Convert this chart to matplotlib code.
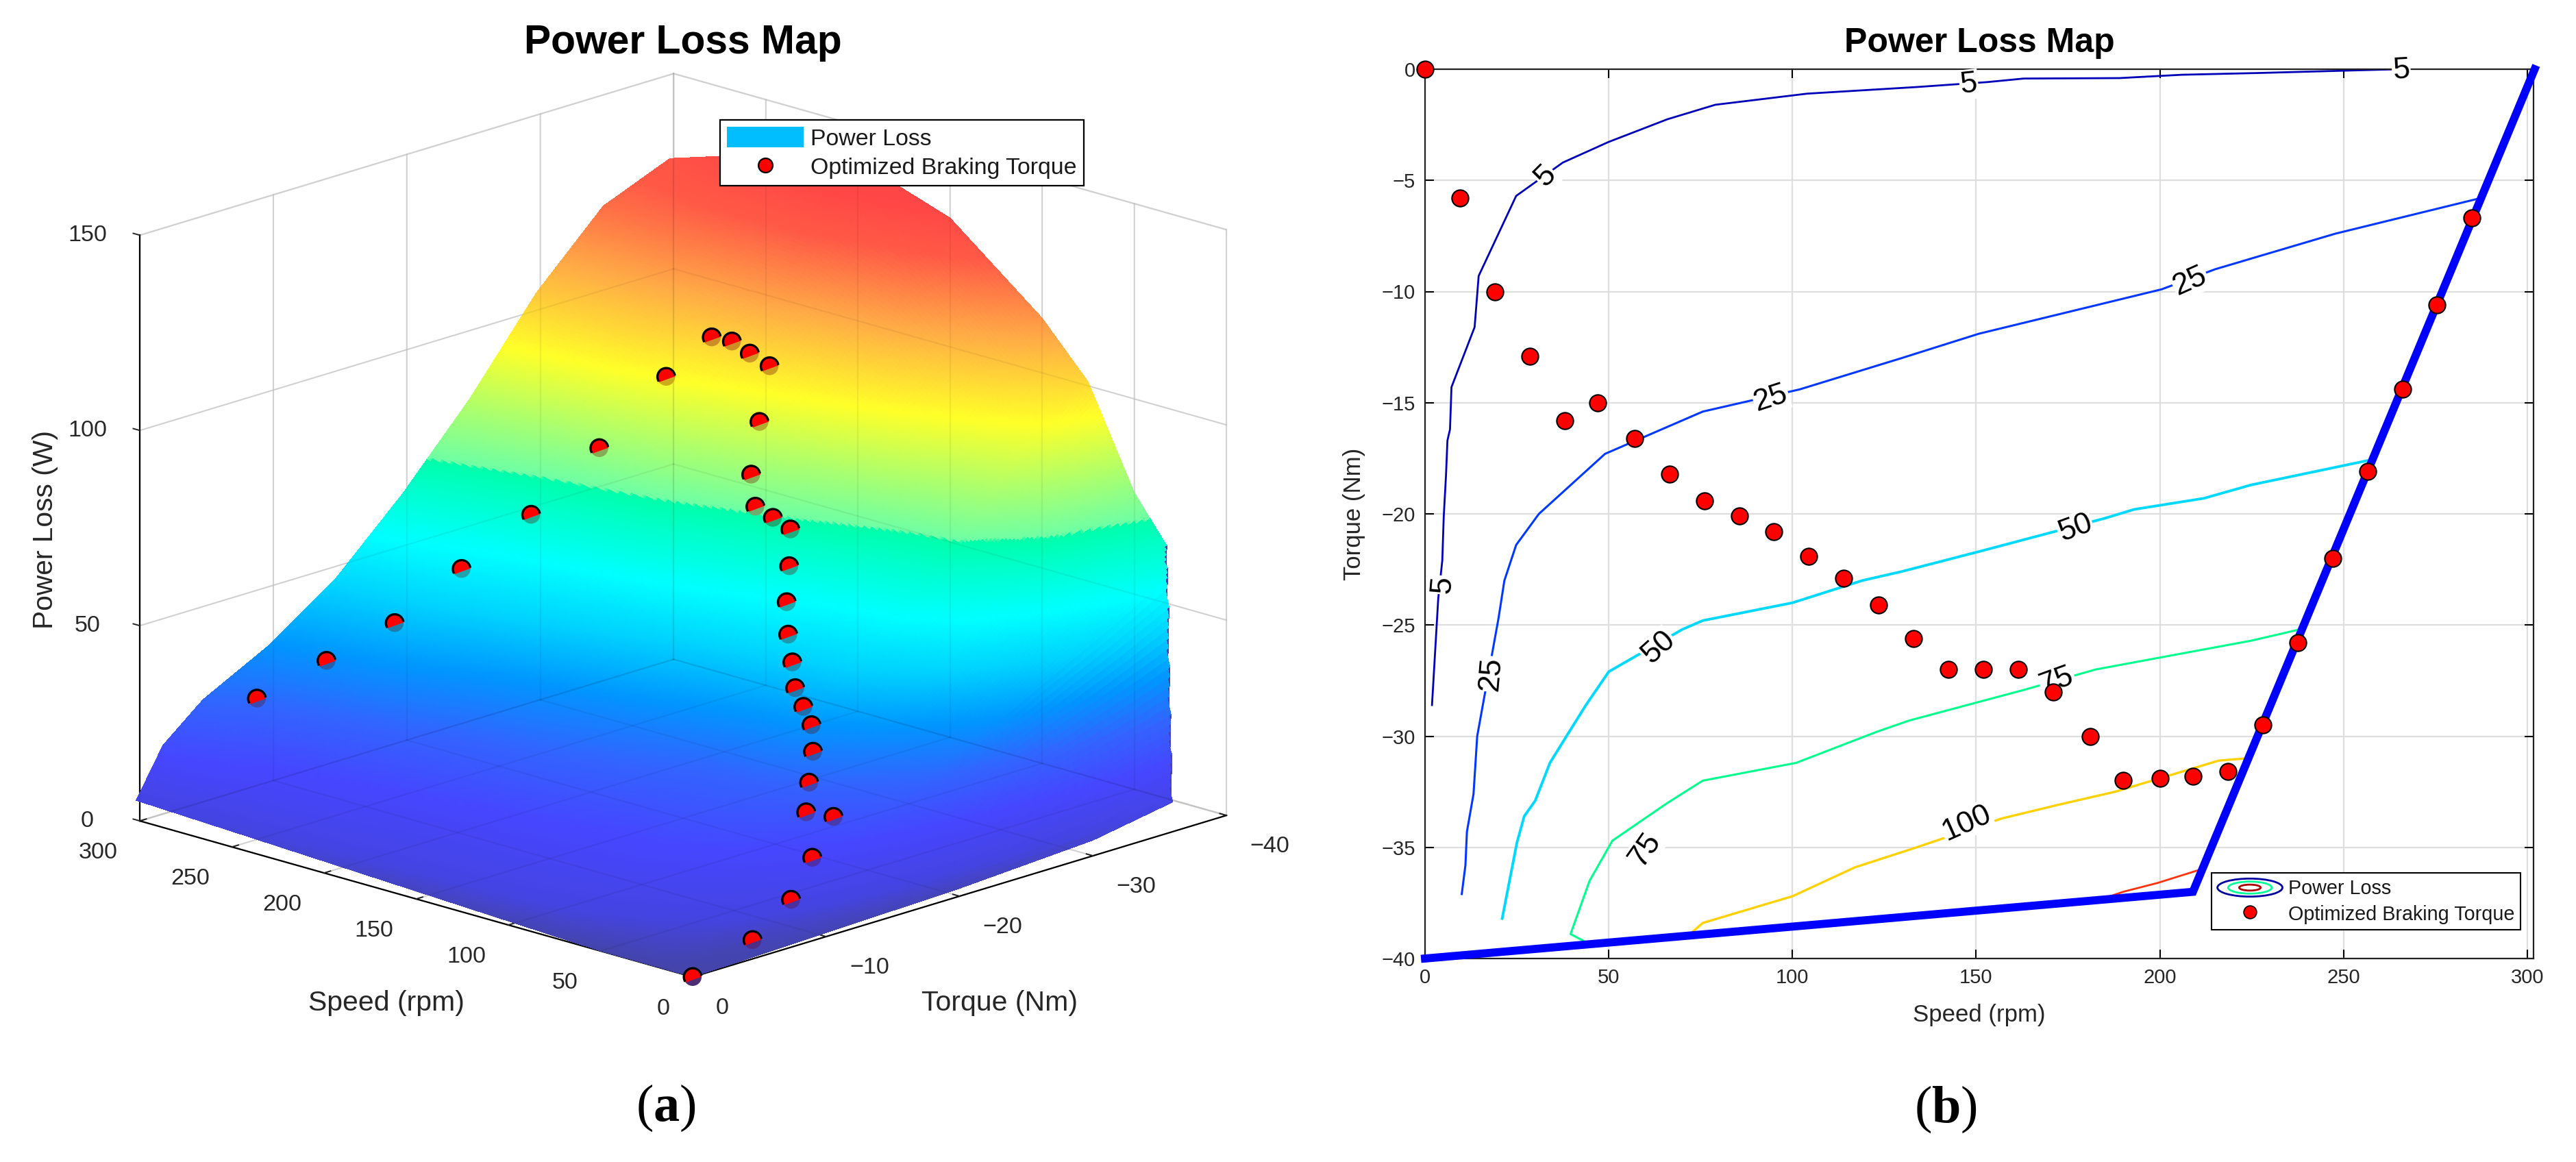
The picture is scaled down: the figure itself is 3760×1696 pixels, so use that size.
import numpy as np
import matplotlib
matplotlib.use("Agg")
import matplotlib.pyplot as plt
from matplotlib.colors import LinearSegmentedColormap
from matplotlib.legend_handler import HandlerBase
from matplotlib.lines import Line2D
from matplotlib.patches import Ellipse, Patch
from matplotlib.path import Path
from matplotlib.text import Text
from mpl_toolkits.mplot3d import proj3d

plt.rcParams['font.family'] = ['Liberation Sans', 'DejaVu Sans']
plt.rcParams['mathtext.fontset'] = 'custom'
plt.rcParams['mathtext.bf'] = 'Liberation Serif:bold'
plt.rcParams['mathtext.rm'] = 'Liberation Serif'

W, H = 3760, 1696

# ---------- data ----------
grid_speed = [0, 10, 25, 50, 75, 100, 150, 200, 250, 302]
grid_torque = [-40, -35, -30, -25, -20, -15, -10, -5, -2, 0]
loss_s0   = [10, 7, 4, 3, 2, 1.5, 1, 0.5, 0.2, 0]
loss_s10  = [27, 23, 19, 15, 11, 7, 4, 1, 0.5, 0]
loss_s25  = [60, 50, 41, 32, 23, 16, 9, 4, 2, 0]
loss_s50  = [76, 70, 58, 44, 31, 21, 15, 7, 3, 0]
loss_s75  = [101, 86, 68, 51, 37, 24, 18, 10, 5, 0.5]
loss_s100 = [114, 92, 71, 53, 39, 26, 18, 11, 6.5, 1]
loss_s150 = [133, 106, 81, 62, 45, 32, 22, 12, 7.5, 2]
loss_s200 = [141, 116, 91, 70, 51, 37, 25, 14, 9, 3]
loss_s250 = [136, 120, 100, 75, 56, 43, 31, 17, 11, 4]
loss_s302 = [128, 121, 104, 82, 63, 46.5, 34.5, 25.6, 17, 5]
surface_edge_speed = [0, 32]
surface_edge_torque = [-36, -40]

opt_speed = [0, 9.5, 19, 28.5, 38, 47, 57, 66.5, 76, 85.5, 95, 104.5, 114, 123.5, 133, 142.5,
             152, 161.5, 171, 181, 190, 200, 209, 218.5, 228, 237.5, 247, 256.5, 266, 275.5, 285]
opt_torque = [0, -5.8, -10, -12.9, -15.8, -15, -16.6, -18.2, -19.4, -20.1, -20.8, -21.9, -22.9,
              -24.1, -25.6, -27, -27, -27, -28, -30, -32, -31.9, -31.8, -31.6, -29.5, -25.8,
              -22, -18.1, -14.4, -10.6, -6.7]
opt_loss = [0, 2.2, 6.9, 13.4, 19.6, 20.4, 25, 30, 34.3, 37, 39.8, 44, 48.8, 54.6, 61, 67.7,
            69.4, 71, 76.9, 87, 98, 100, 102, 102, 92.8, 77.1, 62.7, 51.6, 40.3, 33.3, 26.4]

limit_speed = [0, 209, 302]
limit_torque = [-40, -37, 0]

c5_x = [279.5, 265, 227, 206, 189, 163, 153, 134, 104, 79, 66, 50, 37.5, 24.8, 14.6, 13.5, 7.2,
        6.8, 6.1, 5.7, 5.1, 4.7, 3.6, 1.9]
c5_y = [0.05, 0, -0.17, -0.25, -0.4, -0.42, -0.58, -0.8, -1.1, -1.6, -2.25, -3.27, -4.2, -5.7,
        -9.3, -11.6, -14.3, -16.2, -16.7, -18.3, -20.1, -22.1, -23.8, -28.6]
c25_x = [286, 247.7, 215, 200.5, 150.7, 129.6, 102, 75.6, 49, 31, 24.8, 21.6, 20, 14.2, 13.2,
         11.4, 11, 10]
c25_y = [-5.85, -7.4, -9, -9.9, -11.9, -13, -14.4, -15.4, -17.3, -20, -21.4, -23, -24.7, -30,
         -32.6, -34.3, -35.8, -37.1]
c50_x = [256.6, 224.8, 212, 193, 185, 150.7, 129.6, 119, 100, 75.6, 70, 50, 43.8, 38.5, 34, 30,
         27, 25, 21]
c50_y = [-17.6, -18.7, -19.3, -19.8, -20.2, -21.7, -22.6, -23, -24, -24.8, -25.2, -27.1, -28.6,
         -30, -31.2, -32.9, -33.6, -34.8, -38.2]
c75_x = [238, 225, 182.5, 163.4, 131.7, 123, 101, 75.6, 66, 51, 44.8, 39.6, 44.2]
c75_y = [-25.2, -25.7, -27, -27.9, -29.3, -29.8, -31.2, -32, -33, -34.7, -36.5, -38.9, -39.3]
c100_x = [223.3, 216, 187.8, 172, 157, 133.8, 117, 100, 75.6, 71.4]
c100_y = [-31, -31.1, -32.5, -33.1, -33.7, -35, -35.9, -37.2, -38.4, -39]
c125_x = [211, 199.4, 190, 184.6]
c125_y = [-36, -36.6, -37, -37.3]

contour_labels = ['5', '5', '5', '5', '25', '25', '25', '50', '50', '75', '75', '100']
label_speed = [148, 265.7, 32.8, 4.8, 208.3, 94.2, 18, 177, 63.5, 60, 172, 147.4]
label_torque = [-0.68, -0.05, -4.8, -23.2, -9.55, -14.8, -27.2, -20.65, -26, -35.1, -27.5, -33.9]
label_angle = [6, 3, 45, 85, 24, 18, 85, 20, 42, 55, 20, 24]

speed_ticks = [0, 50, 100, 150, 200, 250, 300]
torque_ticks_3d = [-40, -30, -20, -10, 0]
loss_ticks = [0, 50, 100, 150]
torque_ticks_2d = [-40, -35, -30, -25, -20, -15, -10, -5, 0]

# colour ramp as seen on the surface: power loss -> visible colour
ramp_loss = [0, 5, 15, 25, 35, 45, 55, 65, 69.9, 70.1, 80, 93, 110, 125, 135, 150]
ramp_rgb = [(68, 68, 170), (68, 68, 225), (70, 70, 255), (50, 100, 255), (0, 150, 255),
            (0, 210, 255), (0, 255, 255), (0, 255, 200), (0, 255, 170), (110, 255, 165),
            (170, 255, 110), (255, 255, 40), (255, 170, 70), (255, 90, 70), (255, 70, 70),
            (255, 70, 70)]

fig = plt.figure(figsize=(W / 100, H / 100), dpi=100, facecolor='white')


def fx(px):
    return px / W


def fy(py):
    return 1 - py / H


# ---------- (a) 3D surface ----------
ax3 = fig.add_axes([0, 0, 1, 1], projection='3d', proj_type='ortho', computed_zorder=False)
ax3.set_box_aspect((1, 1, 0.797))
ax3.view_init(elev=17, azim=134)
ax3.set_xlim(0, 300, view_margin=0)
ax3.set_ylim(-40, 0, view_margin=0)
ax3.set_zlim(0, 150, view_margin=0)

# place the projected box on the target corners (pixels, y down)
M = ax3.get_proj()
ax_, ay_, _ = proj3d.proj_transform(300, 0, 0, M)
bx_, by_, _ = proj3d.proj_transform(0, -40, 0, M)
ox_, oy_, _ = proj3d.proj_transform(0, 0, 0, M)
k = (1789 - 203) / (bx_ - ax_)
v = ax3.viewLim
v_x0, v_x1, v_y0 = v.x0, v.x1, v.y0
size = k * (v_x1 - v_x0)
left = 1011 - k * (ox_ - v_x0)
bottom = (H - 1426) - k * (oy_ - v_y0)
ax3.set_position([left / W, bottom / H, size / W, size / H])
ax3.patch.set_alpha(0)

table = np.array([loss_s0, loss_s10, loss_s25, loss_s50, loss_s75, loss_s100, loss_s150,
                  loss_s200, loss_s250, loss_s302], dtype=float)
fine_s = np.linspace(grid_speed[0], grid_speed[-1], 300)
fine_t = np.linspace(grid_torque[0], grid_torque[-1], 260)
by_t = np.array([np.interp(fine_t, grid_torque, row) for row in table])
fine_z = np.array([np.interp(fine_s, grid_speed, by_t[:, j]) for j in range(len(fine_t))])
SS, TT = np.meshgrid(fine_s, fine_t)
edge = np.interp(SS, surface_edge_speed, surface_edge_torque)
fine_z[TT < edge] = np.nan

zmax = ramp_loss[-1]
nodes = [(z / zmax, tuple(c / 255 for c in rgb)) for z, rgb in zip(ramp_loss, ramp_rgb)]
cmap = LinearSegmentedColormap.from_list('loss', nodes, N=2048)

face = cmap(np.nan_to_num(fine_z) / zmax)
ax3.plot_surface(SS, TT, fine_z, facecolors=face, rstride=1, cstride=1, shade=False,
                 linewidth=0, antialiased=False, zorder=1)

# the grid shows faintly through the translucent surface
GRID = dict(color='black', alpha=0.06, lw=1.6, zorder=2)
for s in speed_ticks:
    ax3.plot([s, s], [-40, 0], [0, 0], **GRID)
    ax3.plot([s, s], [-40, -40], [0, 150], **GRID)
for t in torque_ticks_3d:
    ax3.plot([0, 300], [t, t], [0, 0], **GRID)
    ax3.plot([300, 300], [t, t], [0, 150], **GRID)
for z in loss_ticks:
    ax3.plot([0, 300], [-40, -40], [z, z], **GRID)
    ax3.plot([300, 300], [-40, 0], [z, z], **GRID)

under = np.array([np.array(cmap(z / zmax)[:3]) * 0.68 + np.array([0.12, 0, 0]) for z in opt_loss])
under = np.clip(under, 0, 1)
ax3.scatter(opt_speed, opt_torque, opt_loss, s=350, c=under, marker='o', linewidths=0,
            depthshade=False, zorder=3)


def arc_path(a0, a1, closed):
    ang = np.radians(np.linspace(a0, a1, 60))
    pts = np.column_stack([np.cos(ang), np.sin(ang)])
    if closed:
        return Path(np.vstack([pts, pts[0]]), closed=True)
    return Path(pts)


# upper part of each marker stands clear of the surface; only that part has a black rim
ax3.scatter(opt_speed, opt_torque, opt_loss, s=340, c='red', marker=arc_path(5, 215, True),
            linewidths=0, depthshade=False, zorder=4)
ax3.scatter(opt_speed, opt_torque, opt_loss, s=340, facecolors='none', edgecolors='black',
            marker=arc_path(8, 212, False), linewidths=2.4, depthshade=False, zorder=5)

for axis in (ax3.xaxis, ax3.yaxis, ax3.zaxis):
    axis.pane.set_facecolor((1, 1, 1, 0))
    axis.pane.set_edgecolor((0.85, 0.85, 0.85))
    axis.pane.set_linewidth(1.6)
    axis.line.set_color('black')
    axis.line.set_linewidth(1.6)
    axis._axinfo['grid'].update(color=(0.87, 0.87, 0.87), linewidth=1.4)
    axis._axinfo['tick'].update(inward_factor=0.0, outward_factor=0.15,
                                linewidth={True: 1.4, False: 1.0})
    axis.set_rotate_label(False)

ax3.set_xticks(speed_ticks)
ax3.set_yticks(torque_ticks_3d)
ax3.set_zticks(loss_ticks)
ax3.set_yticklabels(['\u2212%d' % abs(t) if t else '0' for t in torque_ticks_3d])
ax3.tick_params(axis='x', labelsize=24.6, colors='#262626', pad=20)
ax3.tick_params(axis='y', labelsize=24.6, colors='#262626', pad=20)
ax3.tick_params(axis='z', labelsize=24.6, colors='#262626', pad=24)
ax3.zaxis._axinfo['juggled'] = (1, 2, 0)
for lab in ax3.get_xticklabels():
    lab.set_ha('right')
    lab.set_va('center')
for lab in ax3.get_yticklabels():
    lab.set_ha('left')
    lab.set_va('center')
for lab in ax3.get_zticklabels():
    lab.set_ha('center')
    lab.set_va('center')

ax3.set_xlabel('Speed (rpm)', fontsize=29.5, color='#262626')
ax3.set_ylabel('Torque (Nm)', fontsize=29.5, color='#262626')
ax3.set_zlabel('Power Loss (W)', fontsize=29.3, color='#262626', rotation=90)
# fix the axis labels at their target pixels (expressed in the 2D view coordinates of the 3D axes)
for axis, (lx, ly) in ((ax3.xaxis, (564, 1464)), (ax3.yaxis, (1459, 1464)), (ax3.zaxis, (66, 773))):
    Text.set_position(axis.label, (v_x0 + (lx - left) / k, v_y0 + ((H - ly) - bottom) / k))
    axis.label.set_position = lambda xy: None
    axis.label.set_clip_on(False)

fig.text(fx(997), fy(63), 'Power Loss Map', fontsize=42.4, fontweight='bold', ha='center', va='center')

leg3 = fig.legend(handles=[Patch(facecolor=(0, 190 / 255, 1), edgecolor='none', label='Power Loss'),
                           Line2D([], [], ls='none', marker='o', mfc='red', mec='black', mew=1.6,
                                  ms=15, label='Optimized Braking Torque')],
                  loc='upper left', bbox_to_anchor=(fx(1051), fy(175)), bbox_transform=fig.transFigure,
                  fontsize=24.4, frameon=True, fancybox=False, framealpha=1, edgecolor='black',
                  borderaxespad=0, borderpad=0.3, handlelength=3.3, handleheight=1.0,
                  handletextpad=0.3, labelspacing=0.25, labelcolor='#1a1a1a')
leg3.get_frame().set_linewidth(1.6)

# ---------- (b) contour map ----------
ax2 = fig.add_axes([2080 / W, (H - 1399) / H, (3698 - 2080) / W, (1399 - 101) / H])
ax2.set_xlim(0, 301.7)
ax2.set_ylim(-40, 0)
ax2.set_xticks(speed_ticks)
ax2.set_yticks(torque_ticks_2d)
ax2.set_yticklabels(['\u2212%d' % abs(t) if t else '0' for t in torque_ticks_2d])
ax2.grid(True, color=(0.87, 0.87, 0.87), linewidth=1.6, zorder=0)
ax2.set_axisbelow(True)
ax2.tick_params(direction='in', length=9.5, width=1.5, top=True, right=True, labelsize=21,
                labelcolor='#262626', pad=10)
for sp in ax2.spines.values():
    sp.set_linewidth(1.6)
    sp.set_color('#222222')

ax2.plot(c5_x, c5_y, color=(0, 0, 0.72), lw=2.0, zorder=2)
ax2.plot(c25_x, c25_y, color=(0, 0.22, 1), lw=2.2, zorder=2)
ax2.plot(c50_x, c50_y, color=(0, 0.85, 1), lw=2.8, zorder=2)
ax2.plot(c75_x, c75_y, color=(0, 1, 0.55), lw=2.2, zorder=2)
ax2.plot(c100_x, c100_y, color=(1, 0.82, 0), lw=2.4, zorder=2)
ax2.plot(c125_x, c125_y, color=(1, 0.2, 0.05), lw=2.0, zorder=2)

ax2.plot(limit_speed, limit_torque, color=(0, 0, 1), lw=8.5, clip_on=False, zorder=3,
         solid_joinstyle='miter')

for txt, xs, ys, ang in zip(contour_labels, label_speed, label_torque, label_angle):
    ax2.text(xs, ys, txt, fontsize=32, rotation=ang, rotation_mode='anchor', ha='center', va='center',
             color='black', zorder=4,
             bbox=dict(facecolor='white', edgecolor='none', pad=1.0))

ax2.plot(opt_speed, opt_torque, ls='none', marker='o', mfc='red', mec='black', mew=1.5, ms=17.5,
         clip_on=False, zorder=5)

ax2.set_xlabel('Speed (rpm)', fontsize=25, color='#262626', labelpad=17)
ax2.set_ylabel('Torque (Nm)', fontsize=25, color='#262626', labelpad=17)
ax2.set_title('Power Loss Map', fontsize=36, fontweight='bold', pad=18)


class ContourHandle:
    pass


class ContourHandler(HandlerBase):
    def create_artists(self, legend, orig, xd, yd, width, height, fontsize, trans):
        cx, cy = width / 2 - xd, height / 2 - yd
        arts = []
        for f, col in zip((1.0, 0.67, 0.33), ((0, 0, 0.63), (0, 1, 0.6), (0.67, 0, 0))):
            arts.append(Ellipse((cx, cy), width * f, height * 1.02 * f, fill=False, edgecolor=col,
                                linewidth=2.0, transform=trans))
        return arts


leg2 = ax2.legend(handles=[ContourHandle(),
                           Line2D([], [], ls='none', marker='o', mfc='red', mec='black', mew=1.2,
                                  ms=13.5)],
                  labels=['Power Loss', 'Optimized Braking Torque'],
                  handler_map={ContourHandle: ContourHandler()},
                  loc='upper left', bbox_to_anchor=(fx(3228), fy(1274)), bbox_transform=fig.transFigure,
                  fontsize=20.7, frameon=True, fancybox=False, framealpha=1, edgecolor='black',
                  borderaxespad=0, borderpad=0.3, handlelength=3.3, handleheight=1.0,
                  handletextpad=0.3, labelspacing=0.3, labelcolor='#1a1a1a')
leg2.get_frame().set_linewidth(1.5)
leg2.set_zorder(10)

fig.text(fx(972), fy(1617), '($\\mathbf{a}$)', fontsize=55, family='Liberation Serif', ha='center', va='center')
fig.text(fx(2840), fy(1619), '($\\mathbf{b}$)', fontsize=55, family='Liberation Serif', ha='center', va='center')

fig.savefig('out.png', dpi=100)
